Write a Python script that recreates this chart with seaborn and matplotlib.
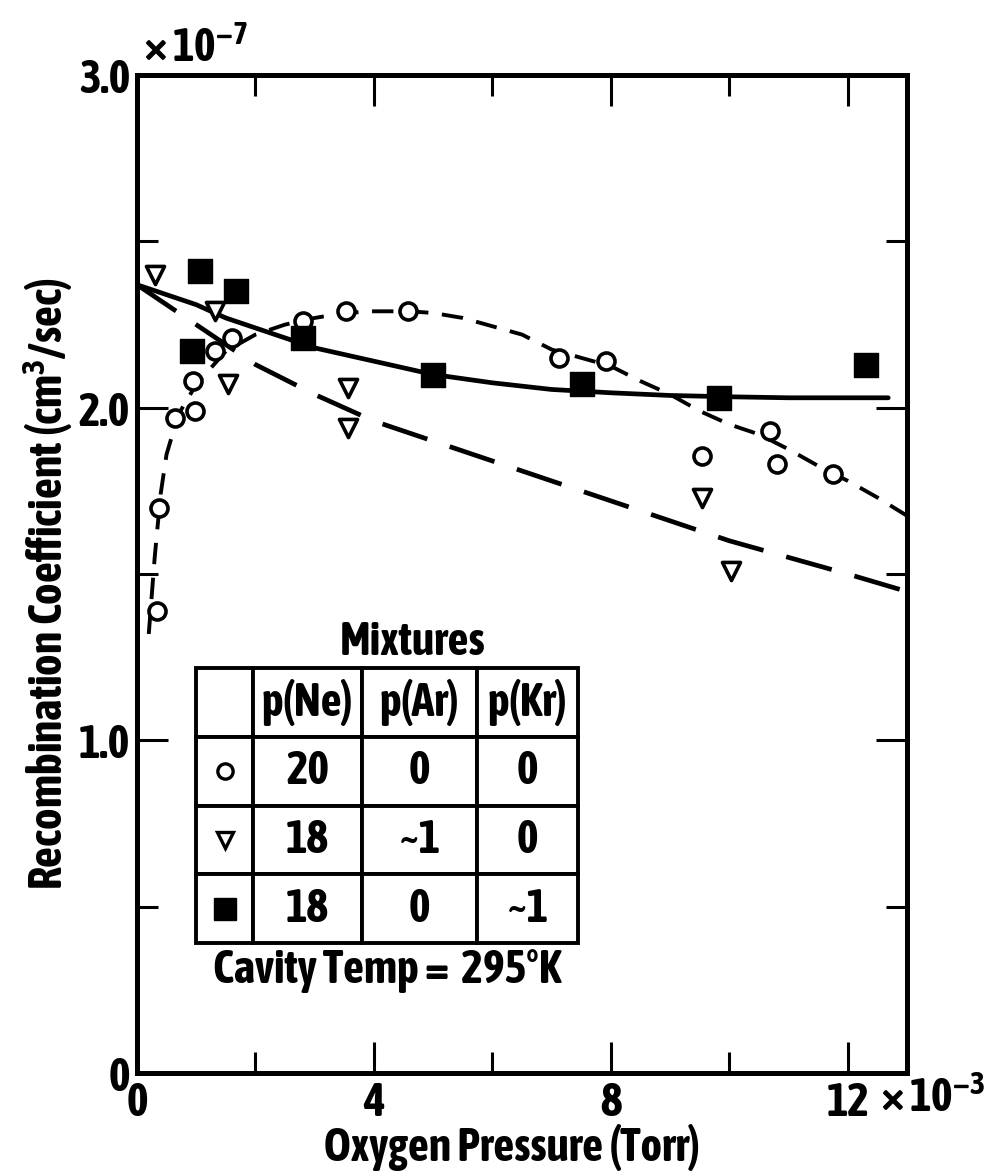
import matplotlib
matplotlib.use("Agg")
import matplotlib.pyplot as plt
import seaborn as sns

# pontos medidos (x em 1e-3 Torr, y em 1e-7 cm3/sec)
ne_x = [0.34, 0.37, 0.64, 0.98, 0.95, 1.32, 1.61, 2.81, 3.53, 4.58, 7.12, 7.92, 9.54, 10.68, 10.81, 11.75]
ne_y = [1.39, 1.70, 1.97, 1.99, 2.08, 2.17, 2.21, 2.26, 2.29, 2.29, 2.15, 2.14, 1.855, 1.93, 1.83, 1.80]

ar_x = [0.31, 1.32, 1.53, 3.56, 3.56, 9.54, 10.02]
ar_y = [2.40, 2.29, 2.07, 2.06, 1.94, 1.73, 1.51]

kr_x = [1.07, 1.68, 0.93, 2.81, 5.00, 7.51, 9.83, 12.31]
kr_y = [2.41, 2.35, 2.17, 2.21, 2.10, 2.07, 2.03, 2.13]

# curvas desenhadas a mao no original
ne_fit_x = [0.2, 0.3, 0.4, 0.5, 0.7, 1.0, 1.5, 2.0, 2.5, 3.0, 3.5, 4.0, 4.6, 5.0, 5.5, 6.0, 6.5,
            7.0, 7.5, 8.0, 8.5, 9.0, 9.5, 10.0, 10.5, 11.0, 11.5, 12.0, 12.5, 13.0]
ne_fit_y = [1.32, 1.55, 1.74, 1.86, 1.98, 2.07, 2.17, 2.22, 2.25, 2.27, 2.285, 2.29, 2.29, 2.285, 2.27,
            2.245, 2.22, 2.175, 2.15, 2.125, 2.08, 2.04, 1.99, 1.95, 1.92, 1.875, 1.825, 1.78, 1.73, 1.675]

ar_fit_x = [0, 1, 2, 3, 4, 5, 6, 7, 8, 9, 10, 11, 12, 12.95]
ar_fit_y = [2.37, 2.25, 2.13, 2.04, 1.96, 1.90, 1.84, 1.78, 1.72, 1.66, 1.60, 1.55, 1.50, 1.45]

kr_fit_x = [0, 0.5, 1, 1.5, 2, 2.5, 3, 3.5, 4, 4.5, 5, 6, 7, 8, 9, 10, 11, 12, 12.68]
kr_fit_y = [2.37, 2.34, 2.31, 2.27, 2.24, 2.21, 2.18, 2.16, 2.14, 2.12, 2.10, 2.075, 2.055, 2.045,
            2.037, 2.033, 2.03, 2.03, 2.03]

# tabela das misturas
col_labels = ["", "p(Ne)", "p(Ar)", "p(Kr)"]
tabela = [["", "20", "0", "0"],
          ["", "18", "~1", "0"],
          ["", "18", "0", "~1"]]

sns.set_style("ticks")
plt.rcParams["font.family"] = ["Asap Condensed", "DejaVu Sans"]
plt.rcParams["font.weight"] = "bold"
plt.rcParams["mathtext.fontset"] = "custom"
plt.rcParams["mathtext.rm"] = "Asap Condensed:bold"
plt.rcParams["mathtext.bf"] = "Asap Condensed:bold"
plt.rcParams["mathtext.it"] = "Asap Condensed:bold"
for k in ["text.color", "axes.labelcolor", "xtick.color", "ytick.color", "axes.edgecolor"]:
    plt.rcParams[k] = "black"

fig = plt.figure(figsize=(9.85, 11.74), dpi=100)
ax = fig.add_axes([0.139, 0.086, 0.782, 0.850])

fs = 33
lw = 3.4

sns.lineplot(x=ne_fit_x, y=ne_fit_y, ax=ax, color="black", lw=2.8, sort=False,
             estimator=None, linestyle=(0, (5.5, 3.5)))
sns.lineplot(x=ar_fit_x, y=ar_fit_y, ax=ax, color="black", lw=lw, sort=False,
             estimator=None, linestyle=(0, (10, 5)))
sns.lineplot(x=kr_fit_x, y=kr_fit_y, ax=ax, color="black", lw=lw, sort=False, estimator=None)

sns.scatterplot(x=ne_x, y=ne_y, ax=ax, marker="o", s=150, facecolor="white",
                edgecolor="black", linewidth=2.6, zorder=5)
sns.scatterplot(x=ar_x, y=ar_y, ax=ax, marker="v", s=170, facecolor="white",
                edgecolor="black", linewidth=2.6, zorder=5)
sns.scatterplot(x=kr_x, y=kr_y, ax=ax, marker="s", s=300, color="black",
                edgecolor="black", linewidth=1, zorder=5)

ax.set_xlim(0, 13)
ax.set_ylim(0, 3.0)
ax.set_xticks([0, 4, 8, 12])
ax.set_xticklabels(["0", "4", "8", "12"])
ax.set_xticks([2, 6, 10], minor=True)
ax.set_yticks([0, 1.0, 2.0, 3.0])
ax.set_yticklabels(["0", "1.0", "2.0", "3.0"])
ax.set_yticks([0.5, 1.5, 2.5], minor=True)
ax.tick_params(which="both", direction="in", top=True, right=True, width=2.2,
               labelsize=fs)
ax.tick_params(axis="x", pad=5)
ax.tick_params(axis="y", pad=5)
ax.tick_params(which="major", length=22)
ax.tick_params(which="minor", length=15)
for s in ax.spines.values():
    s.set_linewidth(3.6)

ax.set_xlabel("Oxygen Pressure (Torr)", fontsize=fs, fontweight="bold")
ax.set_ylabel("Recombination Coefficient (cm$^3$/sec)", fontsize=fs, fontweight="bold")
ax.xaxis.label.set_verticalalignment("center")
ax.yaxis.label.set_verticalalignment("center")
ax.xaxis.set_label_coords(0.487, -0.075)
ax.yaxis.set_label_coords(-0.116, 0.49)

fig.text(0.145, 0.947, r"$\times\,10^{-7}$", fontsize=fs, ha="left", va="baseline")
fig.text(0.893, 0.053, r"$\times\,10^{-3}$", fontsize=fs, ha="left", va="baseline")

# tabela dentro do grafico
tb = ax.table(cellText=tabela, colLabels=col_labels, cellLoc="center",
              colWidths=[0.149, 0.285, 0.301, 0.264], bbox=[0.077, 0.130, 0.496, 0.276])
tb.auto_set_font_size(False)
for (r, c), cel in tb.get_celld().items():
    cel.set_linewidth(2.8)
    cel.set_edgecolor("black")
    cel.set_facecolor("white")
    cel.get_text().set_fontsize(fs)
    cel.get_text().set_fontweight("bold")

ax.plot(0.114, 0.3025, marker="o", ms=11, mfc="white", mec="black", mew=2.4,
        transform=ax.transAxes, zorder=10, clip_on=False)
ax.plot(0.114, 0.2335, marker="v", ms=12, mfc="white", mec="black", mew=2.4,
        transform=ax.transAxes, zorder=10, clip_on=False)
ax.plot(0.114, 0.1645, marker="s", ms=16, color="black",
        transform=ax.transAxes, zorder=10, clip_on=False)

ax.text(0.358, 0.432, "Mixtures", transform=ax.transAxes, fontsize=fs,
        ha="center", va="center")
ax.text(0.325, 0.103, "Cavity Temp =  295°K", transform=ax.transAxes, fontsize=fs,
        ha="center", va="center")

fig.savefig("out.png", dpi=100)
